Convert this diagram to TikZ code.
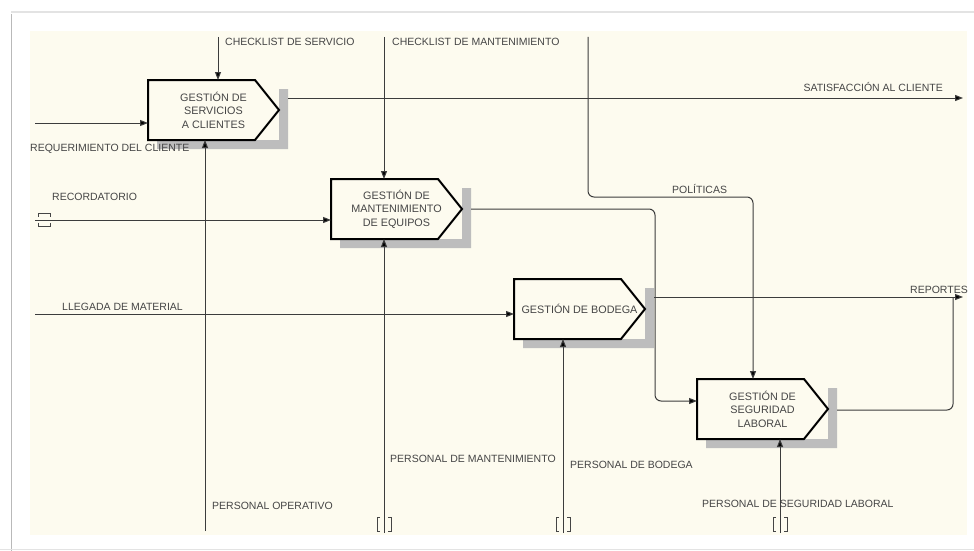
\documentclass[tikz,border=0pt]{standalone}
\usepackage{fontspec}
\setmainfont{Liberation Sans}
\usetikzlibrary{arrows.meta,calc}
\definecolor{bgcream}{HTML}{FDFBEF}
\definecolor{txtgray}{HTML}{454545}
\definecolor{linegray}{HTML}{3C3C3C}
\definecolor{shadowgray}{HTML}{BDBDBD}
\newcommand{\IdefBox}[4]{% name, left, top, text
  \fill[shadowgray] (#2+131,#3+9) -- (#2+140,#3+9) -- (#2+140,#3+69) -- (#2+9,#3+69) -- (#2+9,#3+60) -- (#2+131,#3+60) -- cycle;
  \draw[boxline] (#2,#3) -- (#2+107,#3) -- (#2+131,#3+30) -- (#2+107,#3+60) -- (#2,#3+60) -- cycle;
  \node[boxtext] (#1) at (#2+65.5,#3+30) {#4};
}
\begin{document}
\begin{tikzpicture}[x=1pt,y=-1pt,
 lbl/.style={font=\fontsize{10.5}{12}\selectfont, text=txtgray, inner sep=0pt},
 boxtext/.style={font=\fontsize{10.8}{13.5}\selectfont, text=txtgray, align=center, inner sep=0pt},
 conn/.style={draw=linegray, line width=1pt, -{Triangle[length=8pt,width=6pt,fill=black]}},
 plainline/.style={draw=linegray, line width=1pt},
 boxline/.style={draw=black, line width=2pt, fill=bgcream, line join=miter},
 tun/.style={draw=txtgray, line width=1pt}
]
% page and frame
\fill[white] (0,0) rectangle (974,551);
\useasboundingbox (0,0) rectangle (974,551);
\draw[gray!55, line width=1.6pt] (11.5,14) -- (11.5,551);
\draw[gray!22, line width=1.2pt] (11,12) -- (974,12);
\draw[gray!22, line width=1.2pt] (0,549.5) -- (974,549.5);
\fill[bgcream] (30,31) rectangle (967,535);

% boxes
\IdefBox{b1}{148}{80}{GESTIÓN DE\\SERVICIOS\\A CLIENTES}
\IdefBox{b2}{331}{179}{GESTIÓN DE\\MANTENIMIENTO\\DE EQUIPOS}
\IdefBox{b3}{514}{279}{GESTIÓN DE BODEGA}
\IdefBox{b4}{697}{379}{GESTIÓN DE\\SEGURIDAD\\LABORAL}

% ports
\coordinate (b1-ctl) at (218,80);
\coordinate (b1-in) at (148,123);
\coordinate (b1-mech) at (205,140);
\coordinate (b1-out) at (288,98);
\coordinate (b2-ctl) at (384,179);
\coordinate (b2-in) at (331,220);
\coordinate (b2-mech) at (384,239);
\coordinate (b2-out) at (471,209);
\coordinate (b3-in) at (514,314);
\coordinate (b3-mech) at (563,339);
\coordinate (b3-out) at (654,297);
\coordinate (b4-ctl) at (753,379);
\coordinate (b4-in) at (697,401);
\coordinate (b4-mech) at (780,439);
\coordinate (b4-out) at (837,410);

% free ends
\coordinate (s-chk1) at (218,37);
\coordinate (s-chk2) at (384,37);
\coordinate (s-pol) at (588,37);
\coordinate (s-req) at (35,123);
\coordinate (s-rec) at (35,220);
\coordinate (s-lle) at (35,314);
\coordinate (s-pop) at (205,531);
\coordinate (s-pma) at (384,533);
\coordinate (s-pbo) at (563,533);
\coordinate (s-pse) at (780,533);
\coordinate (e-sat) at (963,98);
\coordinate (e-rep) at (963,297);

% connectors
\draw[conn] (s-chk1) -- (b1-ctl);
\draw[conn] (s-req) -- (b1-in);
\draw[conn] (s-pop) -- (b1-mech);
\draw[conn] (b1-out) -- (e-sat);
\draw[conn] (s-chk2) -- (b2-ctl);
\draw[conn] (s-rec) -- (b2-in);
\draw[conn] (s-pma) -- (b2-mech);
\draw[conn, rounded corners=6pt] (b2-out) -- (655,209) -- (655,401) -- (b4-in);
\draw[conn, rounded corners=6pt] (s-pol) -- (588,197) -- (753,197) -- (b4-ctl);
\draw[conn] (s-lle) -- (b3-in);
\draw[conn] (s-pbo) -- (b3-mech);
\draw[conn] (b3-out) -- (e-rep);
\draw[conn] (s-pse) -- (b4-mech);
\draw[plainline, rounded corners=6pt] (b4-out) -- (953,410) -- (953,297);

% tunnels
\draw[tun] (38,216.5) -- (38,213) -- (50,213) -- (50,216.5);
\draw[tun] (38,222.5) -- (38,226) -- (50,226) -- (50,222.5);
\foreach \tx in {384,563,780}{
  \draw[tun] (\tx-4,517) -- (\tx-7,517) -- (\tx-7,531) -- (\tx-4,531);
  \draw[tun] (\tx+4,517) -- (\tx+7,517) -- (\tx+7,531) -- (\tx+4,531);
}

% labels
\node[lbl, anchor=base west] (l-chk1) at (225,46) {CHECKLIST DE SERVICIO};
\node[lbl, anchor=base west] (l-chk2) at (392,46) {CHECKLIST DE MANTENIMIENTO};
\node[lbl, anchor=base east] (l-sat) at (943,92) {SATISFACCIÓN AL CLIENTE};
\node[lbl, anchor=base west] (l-req) at (30,151) {REQUERIMIENTO DEL CLIENTE};
\node[lbl, anchor=base west] (l-rec) at (52,200) {RECORDATORIO};
\node[lbl, anchor=base west] (l-pol) at (672,193) {POLÍTICAS};
\node[lbl, anchor=base west] (l-lle) at (62,310) {LLEGADA DE MATERIAL};
\node[lbl, anchor=base east] (l-rep) at (968,293) {REPORTES};
\node[lbl, anchor=base west] (l-pma) at (390,462) {PERSONAL DE MANTENIMIENTO};
\node[lbl, anchor=base west] (l-pbo) at (570,468) {PERSONAL DE BODEGA};
\node[lbl, anchor=base west] (l-pop) at (212,509) {PERSONAL OPERATIVO};
\node[lbl, anchor=base west] (l-pse) at (702,507) {PERSONAL DE SEGURIDAD LABORAL};
\end{tikzpicture}
\end{document}
